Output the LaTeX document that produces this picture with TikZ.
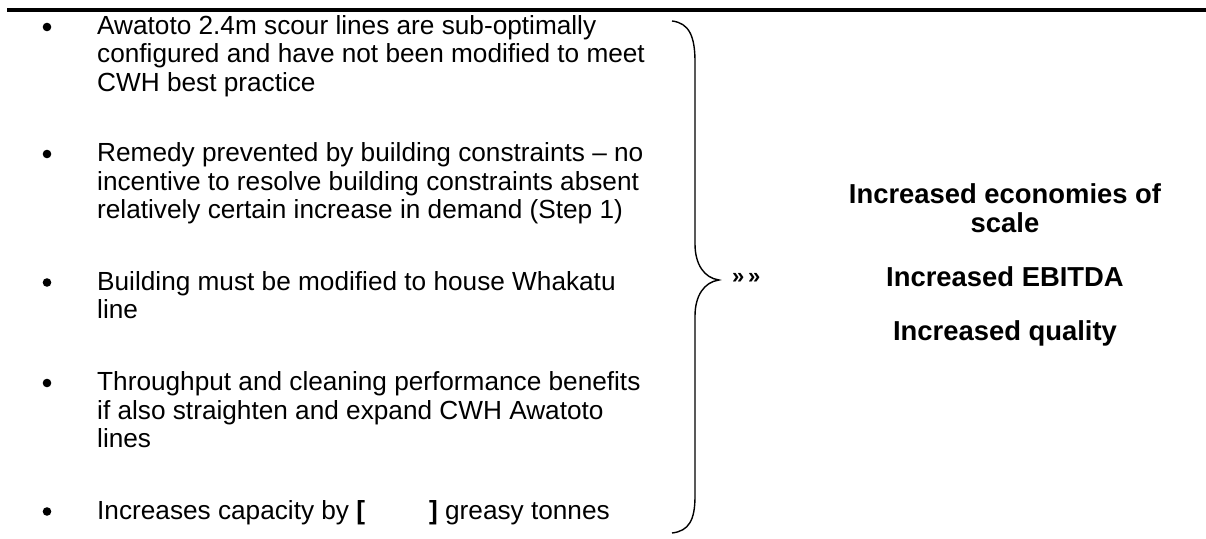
\documentclass[tikz,border=0pt]{standalone}
\usepackage{fontspec}
\setmainfont{Liberation Sans}
\begin{document}
\begin{tikzpicture}[x=1pt,y=-1pt,
  txt/.style={anchor=mid west, inner sep=0pt, font=\fontsize{26.2}{29}\selectfont},
  rtxt/.style={anchor=mid, inner sep=0pt, font=\fontsize{27.4}{29}\selectfont\bfseries},
  bul/.style={circle, fill=black, inner sep=0pt, minimum size=8.6pt, yshift=5pt},
  bracepath/.style={draw, line width=1.4pt}]
\useasboundingbox (0,0) rectangle (1206,538);
\draw[line width=4pt] (7,9.5) -- (1206,9.5);
% bullet 1
\node[bul] (b1) at (47,32) {};
\node[txt] (l11) at (97,32) {Awatoto 2.4m scour lines are sub-optimally};
\node[txt] (l12) at (97,60.3) {configured and have not been modified to meet};
\node[txt] (l13) at (97,88.6) {CWH best practice};
% bullet 2
\node[bul] (b2) at (47,159) {};
\node[txt] (l21) at (97,159) {Remedy prevented by building constraints – no};
\node[txt] (l22) at (97,187.5) {incentive to resolve building constraints absent};
\node[txt] (l23) at (97,216) {relatively certain increase in demand (Step 1)};
% bullet 3
\node[bul] (b3) at (47,287.5) {};
\node[txt] (l31) at (97,287.5) {Building must be modified to house Whakatu};
\node[txt] (l32) at (97,316) {line};
% bullet 4
\node[bul] (b4) at (47,388) {};
\node[txt] (l41) at (97,388) {Throughput and cleaning performance benefits};
\node[txt] (l42) at (97,416.5) {if also straighten and expand CWH Awatoto};
\node[txt] (l43) at (97,445) {lines};
% bullet 5
\node[bul] (b5) at (47,516.5) {};
\node[txt] (l51) at (97,516.5) {Increases capacity by \textbf{[}\hspace{64pt}\textbf{]} greasy tonnes};
% brace
\draw[bracepath] (672,21) .. controls (689,23) and (695,36) .. (695,62)
  -- (695,244) .. controls (695,264) and (704,278) .. (719,280)
  .. controls (704,282) and (695,296) .. (695,316)
  -- (695,496) .. controls (695,520) and (689,531) .. (672,533);
\node[anchor=mid west, inner sep=0pt, font=\fontsize{22}{24}\selectfont\bfseries] (arr) at (732,281) {»\,»};
% right side
\node[rtxt] (r1) at (1005,201) {Increased economies of};
\node[rtxt] (r2) at (1005,229.5) {scale};
\node[rtxt] (r3) at (1005,284) {Increased EBITDA};
\node[rtxt] (r4) at (1005,338) {Increased quality};
\end{tikzpicture}
\end{document}
